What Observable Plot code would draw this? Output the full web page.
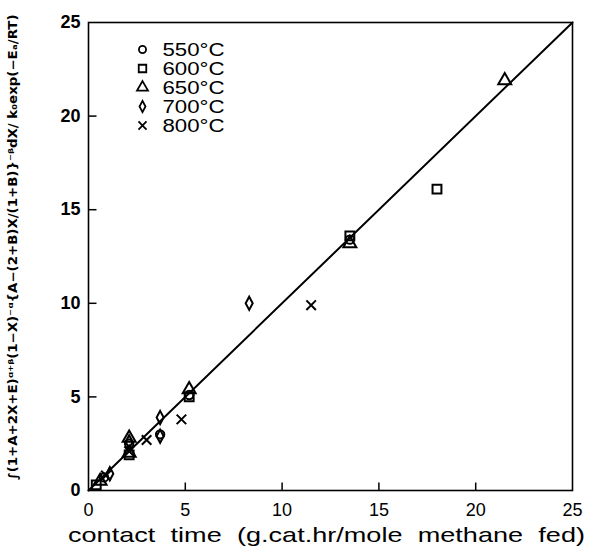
<!DOCTYPE html>
<html>
<head>
<meta charset="utf-8">
<script src="https://cdn.jsdelivr.net/npm/d3@7"></script>
<script src="https://cdn.jsdelivr.net/npm/@observablehq/plot@0.6"></script>
<style>
  html, body { margin: 0; padding: 0; background: #fff; }
  #chart svg { display: block; }
</style>
</head>
<body>
<div id="chart"></div>
<script>
// ---- data ----
const seriesNames = ["550°C", "600°C", "650°C", "700°C", "800°C"];
const s550x = [0.8, 2.1, 3.7, 5.2, 13.5];
const s550y = [0.7, 2.5, 3.0, 5.1, 13.4];
const s600x = [0.4, 2.1, 5.2, 13.5, 18.0];
const s600y = [0.3, 1.9, 5.0, 13.6, 16.1];
const s650x = [0.6, 2.1, 2.1, 5.2, 13.5, 21.5];
const s650y = [0.5, 2.8, 2.0, 5.4, 13.2, 21.9];
const s700x = [1.1, 2.1, 3.7, 3.7, 8.3];
const s700y = [0.9, 2.6, 3.9, 2.9, 10.0];
const s800x = [0.9, 2.1, 3.0, 4.8, 11.5];
const s800y = [0.8, 2.1, 2.7, 3.8, 9.9];
const fitX = [0, 25];
const fitY = [0, 25];
const xTicks = [0, 5, 10, 15, 20, 25];
const yTicks = [0, 5, 10, 15, 20, 25];
const xLabel = "contact time (g.cat.hr/mole methane fed)";
const yLabel = "∫(1+A+2X+E)ᵅ⁺ᵝ(1−X)⁻ᵅ{A−(2+B)X/(1+B)}⁻ᵝdX/ k₀exp(−Eₐ/RT)";

// ---- custom symbols ----
const narrowDiamond = {
  draw(ctx, size) {
    const r = Math.sqrt(size / Math.PI);
    ctx.moveTo(0, -1.5 * r);
    ctx.lineTo(0.8 * r, 0);
    ctx.lineTo(0, 1.5 * r);
    ctx.lineTo(-0.8 * r, 0);
    ctx.closePath();
  }
};
const tickUp = { draw(ctx) { ctx.moveTo(0, 0); ctx.lineTo(0, -8); } };
const tickRight = { draw(ctx) { ctx.moveTo(0, 0); ctx.lineTo(8, 0); } };

const symbols = ["circle", "square", "triangle", narrowDiamond, "times"];
const radii = [4.2, 5, 4.8, 4.4, 4.4];
const xs = [s550x, s600x, s650x, s700x, s800x];
const ys = [s550y, s600y, s650y, s700y, s800y];

const font = "'Liberation Sans', Arial, Helvetica, sans-serif";
const marks = [];

marks.push(Plot.frame({stroke: "black", strokeWidth: 1.6}));
marks.push(Plot.line(fitX.map((x, i) => ({x, y: fitY[i]})), {x: "x", y: "y", stroke: "black", strokeWidth: 2}));

// inward ticks
marks.push(Plot.dot(xTicks.slice(1, -1), {x: d => d, y: () => 0, symbol: tickUp, stroke: "black", strokeWidth: 1.5, fill: "none"}));
marks.push(Plot.dot(yTicks.slice(1, -1), {x: () => 0, y: d => d, symbol: tickRight, stroke: "black", strokeWidth: 1.5, fill: "none"}));

// data points
seriesNames.forEach((name, k) => {
  const pts = xs[k].map((x, i) => ({x, y: ys[k][i]}));
  marks.push(Plot.dot(pts, {x: "x", y: "y", symbol: symbols[k], r: radii[k], stroke: "black", strokeWidth: 2, fill: "none"}));
});

// legend (inside plot)
seriesNames.forEach((name, k) => {
  marks.push(Plot.dot([name], {frameAnchor: "top-left", dx: 54, dy: 27 + k * 19, symbol: symbols[k], r: radii[k] * 0.85, stroke: "black", strokeWidth: 1.8, fill: "none"}));
  marks.push(Plot.text([name], {text: d => d, frameAnchor: "top-left", lineAnchor: "middle", dx: 74, dy: 28 + k * 19, textAnchor: "start", fontSize: 18, fontFamily: font, fill: "black"}));
});

// axes (labels only)
marks.push(Plot.axisX(xTicks, {tickSize: 0, tickPadding: 13, fontSize: 18, fontFamily: font, label: null}));
marks.push(Plot.axisY(yTicks, {tickSize: 0, tickPadding: 8, fontSize: 18, fontWeight: "bold", fontFamily: font, label: null}));

// axis titles
marks.push(Plot.text([xLabel], {text: d => d, frameAnchor: "bottom", lineAnchor: "middle", dy: 45, dx: -4, fontSize: 21, fontFamily: font, fill: "black"}));
marks.push(Plot.text([yLabel], {text: d => d, frameAnchor: "bottom-left", lineAnchor: "middle", textAnchor: "start", rotate: -90, dx: -75, dy: -10, fontSize: 12, fontWeight: "bold", fontFamily: "'DejaVu Sans Condensed', 'Liberation Sans Narrow', sans-serif", fill: "black"}));

const chart = Plot.plot({
  width: 590,
  height: 549,
  marginLeft: 88,
  marginRight: 18,
  marginTop: 22,
  marginBottom: 59,
  style: {fontFamily: font, color: "black", background: "white"},
  x: {domain: [0, 25]},
  y: {domain: [0, 25]},
  marks
});
document.getElementById("chart").appendChild(chart);

// stretch titles to the reference widths
const svg = d3.select(chart);
svg.selectAll("text").each(function () {
  const t = this.textContent;
  if (t === xLabel) {
    d3.select(this).attr("textLength", 517).attr("lengthAdjust", "spacingAndGlyphs").style("word-spacing", "6px");
  } else if (t === yLabel) {
    d3.select(this).attr("textLength", 466).attr("lengthAdjust", "spacingAndGlyphs");
  } else if (seriesNames.includes(t)) {
    d3.select(this).attr("textLength", 62).attr("lengthAdjust", "spacingAndGlyphs");
  }
});
</script>
</body>
</html>
